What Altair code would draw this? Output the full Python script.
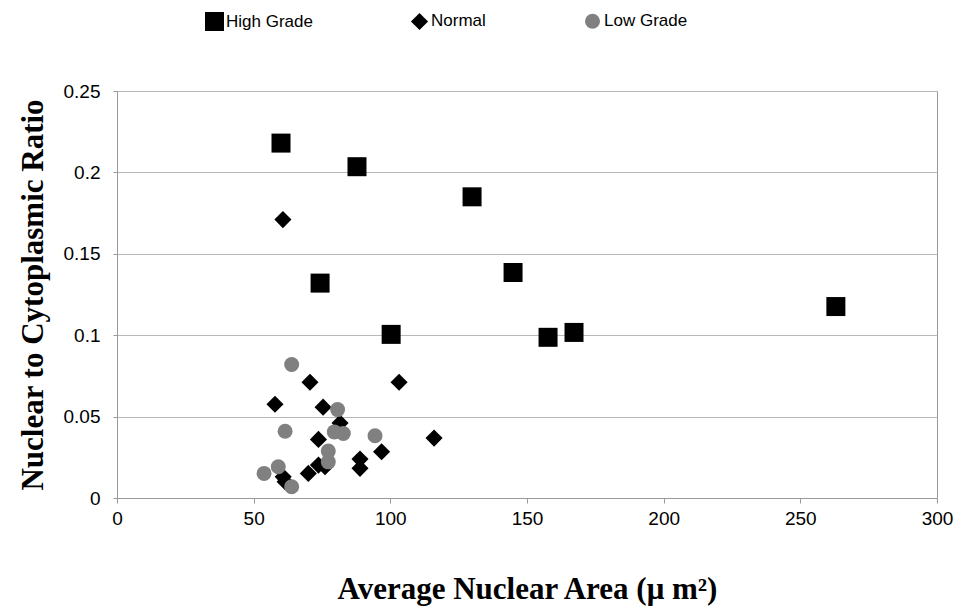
import altair as alt
import pandas as pd

series_order = ["High Grade", "Normal", "Low Grade"]

high_x = [60.0, 87.8, 129.9, 144.9, 74.3, 100.3, 157.7, 167.2, 263.0]
high_y = [0.218, 0.2035, 0.185, 0.1385, 0.132, 0.1005, 0.0987, 0.1017, 0.1176]

normal_x = [60.7, 57.8, 70.6, 75.4, 103.2, 116.0, 81.6, 73.7, 96.8, 88.9, 88.9, 70.0, 73.7, 76.1, 60.8, 61.5]
normal_y = [0.171, 0.0576, 0.0711, 0.0558, 0.0711, 0.0368, 0.046, 0.036, 0.0284, 0.0239, 0.0182, 0.0151, 0.0202, 0.0192, 0.013, 0.010]

low_x = [63.9, 80.7, 61.5, 79.5, 82.8, 94.4, 77.3, 77.3, 59.0, 53.8, 63.9]
low_y = [0.082, 0.0543, 0.041, 0.0406, 0.0396, 0.0382, 0.0288, 0.0222, 0.0192, 0.0151, 0.0069]

x_ticks = [0, 50, 100, 150, 200, 250, 300]
y_ticks = [0, 0.05, 0.1, 0.15, 0.2, 0.25]

rows = []
for xs, ys, name in [(normal_x, normal_y, "Normal"), (low_x, low_y, "Low Grade"), (high_x, high_y, "High Grade")]:
    for a, b in zip(xs, ys):
        rows.append({"area": a, "ratio": b, "group": name})
df = pd.DataFrame(rows)
df["order"] = range(len(df))

chart = alt.Chart(df).mark_point(filled=True, opacity=1).encode(
    x=alt.X("area:Q", scale=alt.Scale(domain=[0, 300], nice=False),
            axis=alt.Axis(values=x_ticks, title="Average Nuclear Area (μ m²)", grid=False,
                          labelFlush=False, tickSize=5, labelPadding=6, titlePadding=46)),
    y=alt.Y("ratio:Q", scale=alt.Scale(domain=[0, 0.25], nice=False),
            axis=alt.Axis(values=y_ticks, format="~g", title="Nuclear to Cytoplasmic Ratio",
                          labelFlush=False, grid=True, tickSize=4, labelPadding=13, titlePadding=14)),
    shape=alt.Shape("group:N", scale=alt.Scale(domain=series_order, range=["square", "diamond", "circle"]),
                    legend=alt.Legend(title=None, orient="none", direction="horizontal", columns=3,
                                      legendX=87, legendY=-80, columnPadding=96,
                                      labelFont="Liberation Sans", labelFontSize=17, labelColor="black",
                                      labelOffset=1)),
    color=alt.Color("group:N", scale=alt.Scale(domain=series_order, range=["#000000", "#000000", "#808080"])),
    size=alt.Size("group:N", scale=alt.Scale(domain=series_order, range=[361, 225, 196])),
    order=alt.Order("order:Q"),
).properties(
    width=820, height=407,
    autosize=alt.AutoSizeParams(type="none"),
    padding={"left": 117, "top": 91, "right": 23, "bottom": 111},
    background="white",
).configure_view(
    stroke="#999999", strokeWidth=1
).configure_axis(
    domainColor="#999999", tickColor="#999999", gridColor="#b8b8b8",
    labelFont="Liberation Sans", labelFontSize=19, labelColor="black",
    titleFont="Liberation Serif", titleFontSize=31, titleFontWeight="bold", titleColor="black",
)

chart.save("out.html", embed_options={"renderer": "svg", "actions": False})
